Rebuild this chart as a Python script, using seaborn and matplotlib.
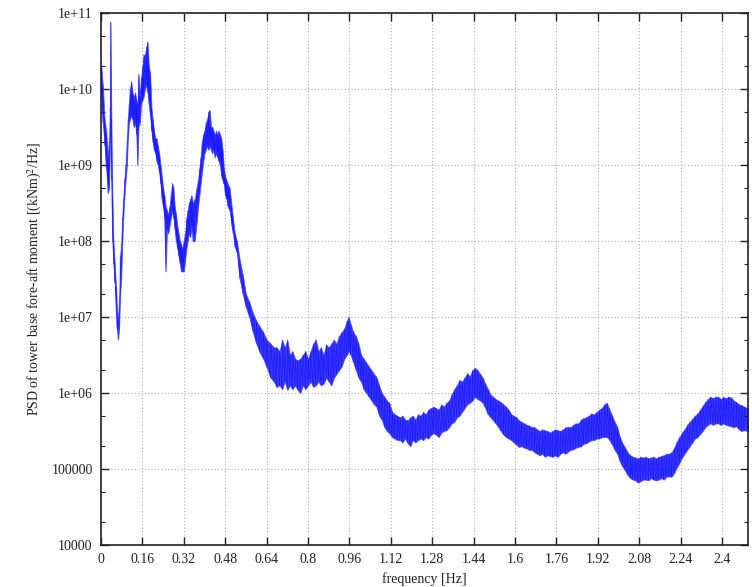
import numpy as np
import pandas as pd
import matplotlib
matplotlib.use("Agg")
import matplotlib.pyplot as plt
from matplotlib.ticker import FixedLocator, FixedFormatter, LogLocator, NullFormatter
import seaborn as sns

# ---- data (frequency in Hz, PSD band edges as log10 values) ----
freq = [0.000, 0.007, 0.014, 0.020, 0.027, 0.031, 0.035, 0.037, 0.040, 0.044, 0.048, 0.053,
        0.058, 0.062, 0.066, 0.070, 0.074, 0.078, 0.082, 0.086, 0.090, 0.095, 0.100, 0.104,
        0.108, 0.112, 0.117, 0.122, 0.127, 0.132, 0.137, 0.141, 0.145, 0.150, 0.155, 0.160,
        0.165, 0.170, 0.175, 0.180, 0.185, 0.190, 0.195, 0.200, 0.205, 0.210, 0.215, 0.220,
        0.225, 0.230, 0.235, 0.240, 0.245, 0.250, 0.255, 0.260, 0.265, 0.270, 0.275, 0.280,
        0.285, 0.290, 0.295, 0.300, 0.305, 0.310, 0.315, 0.320, 0.325, 0.330, 0.335, 0.340,
        0.345, 0.350, 0.355, 0.362, 0.370, 0.375, 0.380, 0.385, 0.390, 0.395, 0.400, 0.405,
        0.410, 0.415, 0.420, 0.425, 0.430, 0.435, 0.440, 0.445, 0.450, 0.455, 0.460, 0.465,
        0.470, 0.475, 0.480, 0.485, 0.490, 0.497, 0.505, 0.510, 0.517, 0.525, 0.536, 0.548,
        0.560, 0.573, 0.587, 0.600, 0.614, 0.627, 0.640, 0.655, 0.668, 0.678, 0.690, 0.700,
        0.710, 0.720, 0.730, 0.740, 0.750, 0.760, 0.770, 0.780, 0.790, 0.800, 0.810, 0.820,
        0.830, 0.840, 0.850, 0.860, 0.870, 0.880, 0.890, 0.900, 0.910, 0.920, 0.930, 0.940,
        0.950, 0.957, 0.965, 0.975, 0.985, 0.995, 1.005, 1.015, 1.025, 1.035, 1.045, 1.055,
        1.064, 1.075, 1.085, 1.095, 1.105, 1.114, 1.125, 1.135, 1.145, 1.155, 1.165, 1.175,
        1.185, 1.195, 1.205, 1.215, 1.225, 1.235, 1.245, 1.255, 1.265, 1.275, 1.285, 1.295,
        1.305, 1.315, 1.325, 1.335, 1.345, 1.355, 1.365, 1.375, 1.385, 1.395, 1.405, 1.415,
        1.425, 1.435, 1.445, 1.455, 1.465, 1.475, 1.485, 1.495, 1.505, 1.515, 1.525, 1.535,
        1.545, 1.555, 1.565, 1.575, 1.585, 1.595, 1.605, 1.615, 1.625, 1.635, 1.645, 1.655,
        1.665, 1.675, 1.685, 1.695, 1.705, 1.715, 1.725, 1.735, 1.745, 1.755, 1.765, 1.775,
        1.785, 1.795, 1.805, 1.815, 1.825, 1.835, 1.845, 1.855, 1.865, 1.875, 1.885, 1.895,
        1.905, 1.915, 1.925, 1.935, 1.945, 1.955, 1.965, 1.975, 1.985, 1.995, 2.005, 2.015,
        2.025, 2.035, 2.045, 2.055, 2.065, 2.075, 2.085, 2.095, 2.105, 2.115, 2.125, 2.135,
        2.145, 2.155, 2.165, 2.175, 2.185, 2.195, 2.205, 2.215, 2.225, 2.235, 2.245, 2.255,
        2.265, 2.275, 2.285, 2.295, 2.305, 2.315, 2.325, 2.335, 2.345, 2.355, 2.365, 2.375,
        2.385, 2.395, 2.405, 2.415, 2.425, 2.435, 2.445, 2.455, 2.465, 2.475, 2.485, 2.500]

psd_low_log = [9.95, 9.55, 9.25, 8.95, 8.63, 8.70, 9.30, 9.60, 8.80, 8.00, 7.70, 7.45,
               7.10, 6.85, 6.70, 6.85, 7.30, 7.50, 7.95, 8.30, 8.55, 8.80, 9.00, 9.35,
               9.55, 9.60, 9.65, 9.60, 9.50, 9.55, 9.40, 9.00, 9.50, 9.55, 9.80, 9.85,
               9.90, 10.00, 10.05, 9.95, 9.80, 9.65, 9.45, 9.30, 9.20, 9.15, 9.05, 9.00,
               8.90, 8.75, 8.55, 8.45, 8.30, 7.60, 8.15, 8.10, 8.20, 8.30, 8.40, 8.30,
               8.15, 8.00, 7.90, 7.80, 7.70, 7.60, 7.60, 7.60, 7.75, 7.90, 8.00, 8.10,
               8.05, 8.20, 8.00, 8.00, 8.25, 8.45, 8.60, 8.75, 8.90, 9.05, 9.15, 9.20,
               9.25, 9.20, 9.25, 9.20, 9.15, 9.20, 9.10, 9.15, 9.10, 9.05, 9.00, 8.85,
               8.80, 8.75, 8.60, 8.55, 8.45, 8.40, 8.20, 8.10, 7.92, 7.85, 7.50, 7.30,
               7.13, 7.00, 6.80, 6.65, 6.53, 6.45, 6.34, 6.20, 6.15, 6.08, 6.10, 6.05,
               6.15, 6.04, 6.10, 6.05, 6.10, 6.04, 6.00, 6.10, 6.05, 6.10, 6.15, 6.08,
               6.10, 6.15, 6.10, 6.12, 6.20, 6.15, 6.10, 6.20, 6.25, 6.30, 6.35, 6.45,
               6.50, 6.55, 6.50, 6.40, 6.30, 6.20, 6.15, 6.05, 6.00, 5.95, 5.90, 5.85,
               5.82, 5.70, 5.65, 5.55, 5.50, 5.47, 5.42, 5.40, 5.38, 5.38, 5.35, 5.40,
               5.34, 5.30, 5.38, 5.35, 5.38, 5.40, 5.38, 5.42, 5.40, 5.45, 5.47, 5.45,
               5.42, 5.48, 5.50, 5.51, 5.55, 5.60, 5.62, 5.68, 5.70, 5.75, 5.80, 5.85,
               5.87, 5.90, 5.95, 5.92, 5.90, 5.87, 5.80, 5.72, 5.68, 5.64, 5.60, 5.55,
               5.50, 5.45, 5.42, 5.40, 5.38, 5.35, 5.32, 5.29, 5.30, 5.28, 5.27, 5.25,
               5.25, 5.22, 5.20, 5.18, 5.20, 5.16, 5.18, 5.17, 5.16, 5.18, 5.16, 5.20,
               5.22, 5.20, 5.23, 5.25, 5.26, 5.28, 5.29, 5.30, 5.33, 5.34, 5.36, 5.38,
               5.38, 5.40, 5.40, 5.42, 5.42, 5.42, 5.38, 5.32, 5.25, 5.20, 5.10, 5.03,
               4.98, 4.92, 4.88, 4.86, 4.85, 4.82, 4.84, 4.86, 4.86, 4.85, 4.88, 4.86,
               4.85, 4.86, 4.88, 4.86, 4.90, 4.90, 4.90, 4.95, 5.02, 5.08, 5.15, 5.20,
               5.25, 5.30, 5.35, 5.40, 5.42, 5.46, 5.50, 5.55, 5.58, 5.60, 5.58, 5.60,
               5.60, 5.58, 5.60, 5.58, 5.57, 5.56, 5.55, 5.56, 5.52, 5.50, 5.51, 5.50]

psd_high_log = [10.35, 10.05, 9.60, 9.45, 9.10, 9.30, 9.75, 10.88, 9.60, 8.60, 8.00, 7.70,
                7.40, 7.10, 6.95, 7.20, 7.80, 7.95, 8.30, 8.55, 8.80, 9.00, 9.30, 9.60,
                9.80, 10.00, 10.10, 9.95, 9.90, 9.95, 9.85, 9.80, 10.20, 9.90, 10.15, 10.30,
                10.45, 10.45, 10.55, 10.62, 10.30, 10.20, 9.75, 9.60, 9.45, 9.35, 9.35, 9.25,
                9.15, 9.00, 8.85, 8.70, 8.60, 8.45, 8.40, 8.35, 8.45, 8.60, 8.76, 8.70,
                8.45, 8.35, 8.20, 8.10, 8.00, 7.95, 7.90, 8.00, 8.10, 8.30, 8.40, 8.50,
                8.55, 8.60, 8.50, 8.55, 8.70, 8.80, 8.95, 9.10, 9.30, 9.40, 9.45, 9.55,
                9.60, 9.70, 9.72, 9.50, 9.50, 9.45, 9.40, 9.45, 9.40, 9.45, 9.40, 9.35,
                9.20, 8.95, 8.85, 8.80, 8.75, 8.70, 8.45, 8.30, 8.10, 8.00, 7.75, 7.55,
                7.30, 7.20, 7.05, 6.95, 6.87, 6.80, 6.70, 6.65, 6.60, 6.60, 6.55, 6.70,
                6.60, 6.70, 6.50, 6.55, 6.45, 6.43, 6.45, 6.50, 6.55, 6.45, 6.55, 6.65,
                6.70, 6.55, 6.60, 6.50, 6.64, 6.60, 6.65, 6.70, 6.65, 6.75, 6.80, 6.85,
                6.95, 7.00, 6.90, 6.80, 6.75, 6.65, 6.50, 6.45, 6.40, 6.35, 6.30, 6.25,
                6.21, 6.10, 6.00, 5.95, 5.90, 5.87, 5.75, 5.72, 5.70, 5.68, 5.70, 5.65,
                5.64, 5.68, 5.70, 5.65, 5.72, 5.70, 5.75, 5.72, 5.78, 5.80, 5.82, 5.80,
                5.78, 5.85, 5.82, 5.87, 5.90, 5.98, 6.05, 6.10, 6.17, 6.15, 6.20, 6.26,
                6.22, 6.30, 6.33, 6.30, 6.25, 6.20, 6.12, 6.05, 5.98, 5.95, 5.92, 5.90,
                5.88, 5.85, 5.82, 5.78, 5.72, 5.70, 5.68, 5.64, 5.62, 5.60, 5.58, 5.57,
                5.55, 5.55, 5.52, 5.50, 5.52, 5.51, 5.50, 5.48, 5.50, 5.52, 5.51, 5.50,
                5.52, 5.55, 5.55, 5.55, 5.58, 5.60, 5.60, 5.65, 5.67, 5.68, 5.70, 5.73,
                5.72, 5.75, 5.78, 5.80, 5.85, 5.87, 5.78, 5.70, 5.62, 5.55, 5.42, 5.34,
                5.28, 5.22, 5.18, 5.16, 5.15, 5.14, 5.16, 5.15, 5.16, 5.14, 5.15, 5.16,
                5.14, 5.16, 5.17, 5.18, 5.20, 5.20, 5.22, 5.28, 5.36, 5.42, 5.48, 5.52,
                5.58, 5.62, 5.66, 5.70, 5.73, 5.78, 5.83, 5.88, 5.92, 5.95, 5.93, 5.95,
                5.95, 5.92, 5.95, 5.93, 5.95, 5.94, 5.90, 5.88, 5.85, 5.84, 5.82, 5.80]

x_ticks = [0, 0.16, 0.32, 0.48, 0.64, 0.8, 0.96, 1.12, 1.28, 1.44, 1.6, 1.76, 1.92, 2.08, 2.24, 2.4]
x_tick_labels = ["0", "0.16", "0.32", "0.48", "0.64", "0.8", "0.96", "1.12", "1.28",
                 "1.44", "1.6", "1.76", "1.92", "2.08", "2.24", "2.4"]
y_ticks = [1e4, 1e5, 1e6, 1e7, 1e8, 1e9, 1e10, 1e11]
y_tick_labels = ["10000", "100000", "1e+06", "1e+07", "1e+08", "1e+09", "1e+10", "1e+11"]

# ---- build table ----
f = np.array(freq)
lo = 10 ** np.array(psd_low_log)
hi = 10 ** np.array(psd_high_log)
# trace alternating between the lower and upper edge of the noisy band
trace = pd.DataFrame({
    "frequency": np.repeat(f, 2),
    "psd": np.column_stack([lo, hi]).ravel(),
})

sns.set_style("ticks")
plt.rcParams["font.family"] = ["Liberation Serif", "DejaVu Serif"]
plt.rcParams["mathtext.fontset"] = "stix"

fig = plt.figure(figsize=(7.52, 5.87), dpi=100)
ax = fig.add_axes([101 / 752, 42 / 587, 647 / 752, 532 / 587])

ax.fill_between(f, lo, hi, color="#0000ff", alpha=0.78, linewidth=0.6,
                edgecolor="#4040ff", zorder=2)
sns.lineplot(data=trace, x="frequency", y="psd", ax=ax, color="#0000ff",
             linewidth=0.45, alpha=0.55, sort=False, estimator=None, zorder=3)

ax.set_yscale("log")
ax.set_xlim(0, 2.5)
ax.set_ylim(1e4, 1e11)

ax.xaxis.set_major_locator(FixedLocator(x_ticks))
ax.xaxis.set_major_formatter(FixedFormatter(x_tick_labels))
ax.yaxis.set_major_locator(FixedLocator(y_ticks))
ax.yaxis.set_major_formatter(FixedFormatter(y_tick_labels))
ax.yaxis.set_minor_locator(LogLocator(base=10, subs=(2.0, 5.0), numticks=20))
ax.yaxis.set_minor_formatter(NullFormatter())

ax.grid(True, which="major", color="#b0b0b0", linestyle=(0, (1, 2)), linewidth=0.8)
ax.tick_params(axis="both", which="both", direction="in", top=True, right=True,
               labelsize=10, colors="#222222", labelcolor="#222222")
ax.tick_params(axis="both", which="major", length=6, width=1.0, pad=6)
ax.tick_params(axis="y", which="minor", length=3, width=0.8)
for s in ax.spines.values():
    s.set_linewidth(1.2)
    s.set_color("#222222")

ax.set_xlabel("frequency [Hz]", fontsize=10, color="#222222", labelpad=4)
ax.set_ylabel("PSD of tower base fore-aft moment [(kNm)$^2$/Hz]", fontsize=10,
              color="#222222", labelpad=5)

fig.savefig("out.png", dpi=100)
